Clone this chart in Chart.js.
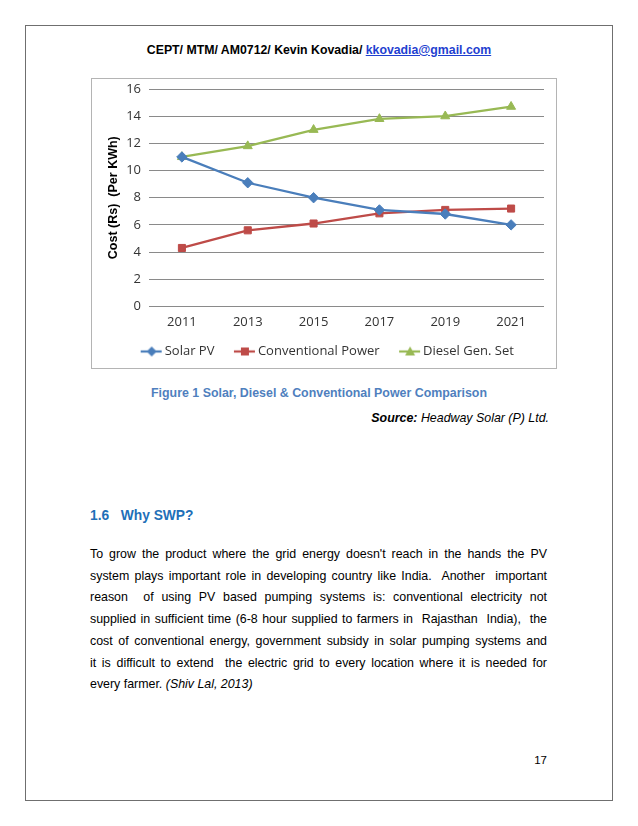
<!DOCTYPE html>
<html>
<head>
<meta charset="utf-8">
<script src="https://cdn.jsdelivr.net/npm/chart.js@4.4.1/dist/chart.umd.min.js"></script>
<style>
  body{margin:0;background:#fff;font-family:"Liberation Sans",Arial,sans-serif;color:#000;}
  .page{position:absolute;left:25px;top:25px;width:586px;height:774px;border:1.5px solid #6f6f6f;}
  .abs{position:absolute;white-space:nowrap;}
  #hdr{left:0;width:638px;top:43px;text-align:center;font-weight:bold;font-size:12.3px;line-height:14px;}
  #hdr a{color:#1f3fd0;}
  #box{position:absolute;left:91px;top:78px;width:464px;height:289px;border:1px solid #b4b4b4;}
  #cap{left:0;width:638px;top:386px;text-align:center;font-weight:bold;font-size:12.4px;line-height:14px;color:#4f7fbe;}
  #src{right:89px;top:411px;font-size:12.4px;line-height:14px;font-style:italic;}
  #h16{left:90px;top:508px;font-size:13.8px;line-height:16px;font-weight:bold;color:#1f6fb8;}
  #para{position:absolute;left:90px;top:544px;width:457px;font-size:12.4px;line-height:21.7px;}
  #para div{text-align:justify;text-align-last:justify;white-space:nowrap;}
  #para div.last{text-align-last:left;}
  #pg{right:91px;top:753px;font-size:11.5px;line-height:14px;}
</style>
</head>
<body>
<div class="page"></div>
<div class="abs" id="hdr">CEPT/ MTM/ AM0712/ Kevin Kovadia/ <a href="#">kkovadia@gmail.com</a></div>
<div id="box"><canvas id="c"></canvas></div>
<div class="abs" id="cap">Figure 1 Solar, Diesel &amp; Conventional Power Comparison</div>
<div class="abs" id="src"><b>Source:</b> Headway Solar (P) Ltd.</div>
<div class="abs" id="h16">1.6&nbsp;&nbsp; Why SWP?</div>
<div id="para">
  <div>To grow the product where the grid energy doesn't reach in the hands the PV</div>
  <div>system plays important role in developing country like India.&nbsp; Another&nbsp; important</div>
  <div>reason&nbsp; of using PV based pumping systems is: conventional electricity not</div>
  <div>supplied in sufficient time (6-8 hour supplied to farmers in&nbsp; Rajasthan&nbsp; India),&nbsp; the</div>
  <div>cost of conventional energy, government subsidy in solar pumping systems and</div>
  <div>it is difficult to extend&nbsp; the electric grid to every location where it is needed for</div>
  <div class="last">every farmer. <i>(Shiv Lal, 2013)</i></div>
</div>
<div class="abs" id="pg">17</div>
<script>
// chart data
const years = ['2011', '2013', '2015', '2017', '2019', '2021'];
const solarPV = [11.0, 9.1, 8.0, 7.1, 6.8, 6.0];
const conventionalPower = [4.3, 5.6, 6.1, 6.85, 7.1, 7.2];
const dieselGenSet = [11.0, 11.8, 13.0, 13.8, 14.0, 14.7];
const seriesNames = ['Solar PV', 'Conventional Power', 'Diesel Gen. Set'];
const yMin = 0, yMax = 16, yStep = 2;

const BLUE = '#4a7ebb', RED = '#be4b48', GREEN = '#98b954';
const chartFont = '"Open Sans", "Liberation Sans", sans-serif';

// legend icon: short line with the marker on top, like Excel
// (canvas is wider than the line so the icon sits right next to its text)
function legendIcon(color, shape){
  const cv = document.createElement('canvas');
  cv.width = 31; cv.height = 12;
  const g = cv.getContext('2d');
  g.strokeStyle = color; g.lineWidth = 2.2;
  g.beginPath(); g.moveTo(9, 6); g.lineTo(30, 6); g.stroke();
  g.fillStyle = color;
  g.beginPath();
  if(shape==='rectRot'){ g.moveTo(20,1); g.lineTo(25,6); g.lineTo(20,11); g.lineTo(15,6); }
  else if(shape==='rect'){ g.rect(16,2,8,8); }
  else { g.moveTo(20,1); g.lineTo(25,10); g.lineTo(15,10); }
  g.closePath(); g.fill();
  return cv;
}
const shapes = ['rectRot', 'rect', 'triangle'];
const colors = [BLUE, RED, GREEN];
const icons = shapes.map((s,i)=>legendIcon(colors[i], s));

function ds(label, data, color, shape){
  return {label, data, borderColor:color, backgroundColor:color, borderWidth:2.3,
    pointStyle:shape, pointRadius:shape==='rect'?5:5.2, pointHoverRadius:5, pointBorderWidth:1,
    tension:0, fill:false};
}

new Chart(document.getElementById('c'), {
  type:'line',
  data:{
    labels:years,
    datasets:[
      ds(seriesNames[0], solarPV, BLUE, shapes[0]),
      ds(seriesNames[1], conventionalPower, RED, shapes[1]),
      ds(seriesNames[2], dieselGenSet, GREEN, shapes[2])
    ]
  },
  options:{
    responsive:true, maintainAspectRatio:false, animation:false,
    layout:{padding:{left:14, right:12, top:10, bottom:0}},
    plugins:{
      tooltip:{enabled:false},
      legend:{
        position:'bottom',
        labels:{
          usePointStyle:true, pointStyleWidth:22, padding:15,
          color:'#333', font:{family:chartFont, size:13},
          generateLabels(chart){
            return chart.data.datasets.map((d,i)=>({
              text:d.label, pointStyle:icons[i], fillStyle:d.borderColor,
              strokeStyle:d.borderColor, lineWidth:0, fontColor:'#333', datasetIndex:i
            }));
          }
        }
      }
    },
    scales:{
      x:{
        offset:true,
        grid:{display:false, tickLength:8},
        border:{display:false},
        ticks:{color:'#333', font:{family:chartFont, size:13}, padding:0}
      },
      y:{
        min:yMin, max:yMax,
        ticks:{stepSize:yStep, color:'#333', font:{family:chartFont, size:13}, padding:8},
        grid:{color:'#8a8a8a', lineWidth:1, drawTicks:false},
        border:{display:false},
        title:{display:true, text:'Cost (Rs)  (Per KWh)', color:'#000',
          font:{family:'"Liberation Sans", Arial, sans-serif', size:12.5, weight:'bold'}, padding:{top:0,bottom:4}},
        afterFit(scale){ scale.width = 43; scale.paddingTop = 0; scale.paddingBottom = 0; }
      }
    }
  }
});
</script>
</body>
</html>
